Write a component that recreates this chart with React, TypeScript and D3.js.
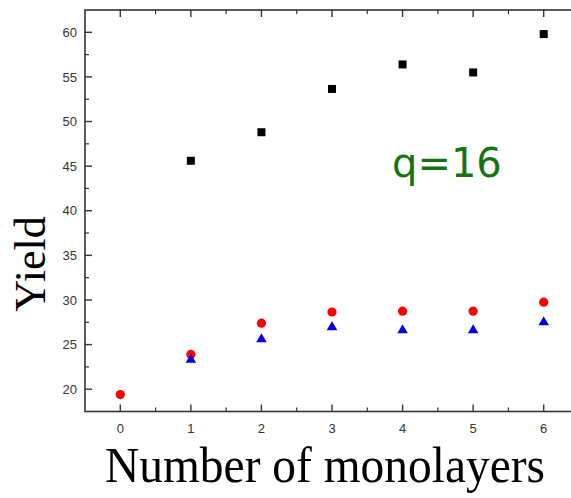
import React from "react";
import * as d3 from "d3";

const layers = [0, 1, 2, 3, 4, 5, 6];
const squareX = [1, 2, 3, 4, 5, 6];
const squareY = [45.6, 48.8, 53.65, 56.4, 55.5, 59.8];
const circleX = [0, 1, 2, 3, 4, 5, 6];
const circleY = [19.4, 23.9, 27.4, 28.65, 28.74, 28.74, 29.75];
const triX = [1, 2, 3, 4, 5, 6];
const triY = [23.3, 25.6, 26.95, 26.6, 26.6, 27.5];
const yTicks = [20, 25, 30, 35, 40, 45, 50, 55, 60];
const yMinor = [22.5, 27.5, 32.5, 37.5, 42.5, 47.5, 52.5, 57.5];
const xMinor = [0.5, 1.5, 2.5, 3.5, 4.5, 5.5];

const W = 571;
const H = 498;
const left = 85;
const right = 579;
const top = 10;
const bottom = 411.5;

export default function App() {
  const x = d3.scaleLinear().domain([-0.5, 6.5]).range([left, right]);
  const y = d3.scaleLinear().domain([17.5, 62.5]).range([bottom, top]);
  const axisColor = "#333";
  const tri = d3.symbol().type(d3.symbolTriangle).size(48)();
  return (
    <svg
      width={W}
      height={H}
      style={{ position: "absolute", left: 0, top: 0, background: "#fff" }}
    >
      <rect x={0} y={0} width={W} height={H} fill="#fff" />
      <rect
        x={left}
        y={top}
        width={right - left}
        height={bottom - top}
        fill="none"
        stroke={axisColor}
        strokeWidth={1.6}
      />
      {yTicks.map((t) => (
        <g key={"y" + t}>
          <line x1={left} x2={left + 7} y1={y(t)} y2={y(t)} stroke={axisColor} strokeWidth={1.4} />
          <text
            x={77}
            y={y(t)}
            dy="0.36em"
            textAnchor="end"
            fontFamily="Liberation Sans, Arial, sans-serif"
            fontSize={13}
            fill="#333"
          >
            {t}
          </text>
        </g>
      ))}
      {yMinor.map((t) => (
        <line key={"ym" + t} x1={left} x2={left + 4} y1={y(t)} y2={y(t)} stroke={axisColor} strokeWidth={1.2} />
      ))}
      {layers.map((t) => (
        <g key={"x" + t}>
          <line x1={x(t)} x2={x(t)} y1={bottom} y2={bottom - 7} stroke={axisColor} strokeWidth={1.4} />
          <line x1={x(t)} x2={x(t)} y1={top} y2={top + 7} stroke={axisColor} strokeWidth={1.4} />
          <text
            x={x(t)}
            y={433}
            textAnchor="middle"
            fontFamily="Liberation Sans, Arial, sans-serif"
            fontSize={13}
            fill="#333"
          >
            {t}
          </text>
        </g>
      ))}
      {xMinor.map((t) => (
        <g key={"xm" + t}>
          <line x1={x(t)} x2={x(t)} y1={bottom} y2={bottom - 4} stroke={axisColor} strokeWidth={1.2} />
          <line x1={x(t)} x2={x(t)} y1={top} y2={top + 4} stroke={axisColor} strokeWidth={1.2} />
        </g>
      ))}
      {squareX.map((v, i) => (
        <rect key={"s" + i} x={x(v) - 4} y={y(squareY[i]) - 4} width={8} height={8} fill="#000" />
      ))}
      {circleX.map((v, i) => (
        <circle key={"c" + i} cx={x(v)} cy={y(circleY[i])} r={4.6} fill="#f00" />
      ))}
      {triX.map((v, i) => (
        <path key={"t" + i} d={tri as string} transform={`translate(${x(v)},${y(triY[i])})`} fill="#0000e6" />
      ))}
      <text x={392} y={177} fontFamily="DejaVu Sans, sans-serif" fontSize={40} fill="#137313">
        q=16
      </text>
      <text
        transform="translate(45,264) rotate(-90)"
        textAnchor="middle"
        fontFamily="Liberation Serif, Times New Roman, serif"
        fontSize={44}
        fill="#000"
      >
        Yield
      </text>
      <text
        x={325}
        y={482}
        textAnchor="middle"
        fontFamily="Liberation Serif, Times New Roman, serif"
        fontSize={50}
        textLength={440}
        lengthAdjust="spacingAndGlyphs"
        fill="#000"
      >
        Number of monolayers
      </text>
    </svg>
  );
}
